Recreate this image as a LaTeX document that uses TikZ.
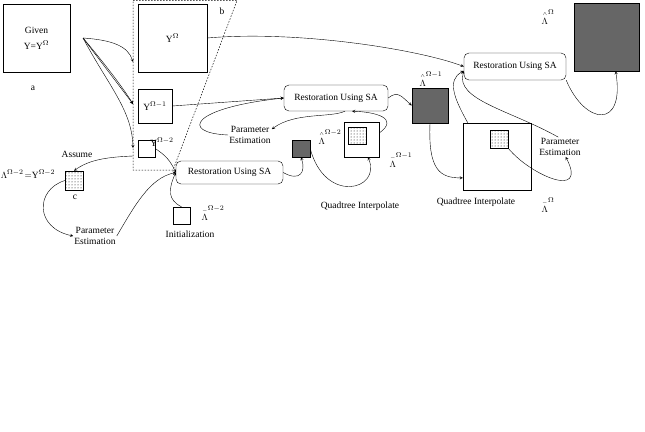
\documentclass[tikz,border=0pt]{standalone}
\usepackage{fontspec}
\setmainfont{Liberation Serif}
\usepackage{tikz}
\usetikzlibrary{patterns}
\tikzstyle{frame} = [rectangle, draw=black, inner sep=0pt, align=center]
\tikzstyle{process} = [rectangle, rounded corners=5pt, draw=black, inner sep=0pt, text centered]
\tikzstyle{dark} = [rectangle, draw=black, fill=black!60, inner sep=0pt]
\tikzstyle{dotbox} = [rectangle, draw=black, pattern=dots, inner sep=0pt]
\tikzstyle{txt} = [inner sep=1pt, align=center]
\tikzstyle{region} = [line width=0.5pt, dash pattern=on 1.5pt off 1.5pt]
\tikzstyle{arrow} = [->,>=stealth]
\newcommand{\lamhat}{\stackrel{\scriptscriptstyle\wedge}{\Lambda}}
\newcommand{\lambar}{\stackrel{\scriptscriptstyle-}{\Lambda}}

\begin{document}
\begin{tikzpicture}[x=1pt, y=-1pt, every node/.style={font=\fontsize{9.5}{11}\selectfont}]
	\useasboundingbox (0,0) rectangle (645,431);

	\node (given) [frame, minimum width=67pt, minimum height=68pt] at (36.5,38) {Given\\[5pt]Y=Y$^{\Omega}$};
	\node (a) [txt] at (33,88) {a};
	\node (yO) [frame, minimum width=69pt, minimum height=68pt] at (172.5,38) {Y$^{\Omega}$};
	\node (b) [txt] at (222,11) {b};
	\node (y1) [frame, minimum width=34pt, minimum height=34pt] at (155,106) {Y$^{\Omega-1}$};
	\node (y2) [frame, minimum width=17pt, minimum height=17pt] at (146.5,148.5) {};
	\node (y2lab) [txt] at (162,142) {Y$^{\Omega-2}$};
	\draw [region] (133,0.5) -- (237,0.5) -- (173,170) -- (133,170) -- cycle;

	\node (assume) [txt] at (77,154) {Assume};
	\node (cbox) [dotbox, minimum width=18pt, minimum height=19pt] at (74,180.5) {};
	\node (c) [txt] at (75,197) {c};
	\node (lamEq) [txt] at (28,174) {$\Lambda^{\Omega-2}\!=$Y$^{\Omega-2}$};
	\node (pe1) [txt] at (95,236) {Parameter\\Estimation};

	\node (res1) [process, minimum width=107pt, minimum height=23pt] at (229.5,172.5) {Restoration Using SA};
	\node (init) [frame, minimum width=17pt, minimum height=17pt] at (181.5,215.5) {};
	\node (initLab) [txt] at (213,213) {$\lambar^{\Omega-2}$};
	\node (initText) [txt] at (190,234) {Initialization};

	\node (dk1) [dark, minimum width=18pt, minimum height=17pt] at (301,148.5) {};
	\node (hat2) [txt] at (330,137) {$\lamhat^{\Omega-2}$};
	\node (qi1) [frame, minimum width=35pt, minimum height=35pt] at (361.5,139.5) {};
	\node (qi1in) [dotbox, minimum width=18pt, minimum height=17pt] at (357,135.5) {};
	\node (qiText1) [txt] at (360,206) {Quadtree Interpolate};
	\node (bar1) [txt] at (401,160) {$\lambar^{\Omega-1}$};

	\node (res2) [process, minimum width=104pt, minimum height=26pt] at (336,98) {Restoration Using SA};
	\node (pe2) [txt] at (250,135) {Parameter\\Estimation};
	\node (dk2) [dark, minimum width=36pt, minimum height=35pt] at (430,105.5) {};
	\node (hat1) [txt] at (431,79) {$\lamhat^{\Omega-1}$};
	\node (qi2) [frame, minimum width=68pt, minimum height=67pt] at (497,156.5) {};
	\node (qi2in) [dotbox, minimum width=18pt, minimum height=18pt] at (499,139) {};
	\node (qiText2) [txt] at (476,202) {Quadtree Interpolate};
	\node (barO) [txt] at (548,205) {$\lambar^{\Omega}$};
	\node (pe3) [txt] at (560,147) {Parameter\\Estimation};

	\node (res3) [process, minimum width=102pt, minimum height=27pt] at (515,66.5) {Restoration Using SA};
	\node (final) [dark, minimum width=65pt, minimum height=68pt] at (606.5,37) {};
	\node (hatO) [txt] at (548,17) {$\lamhat^{\Omega}$};

	\coordinate (src) at (83,38);
	\coordinate (toY) at (133,62);
	\coordinate (toY1) at (133,104);
	\coordinate (toY2) at (133,148);
	\coordinate (asm) at (133,156);

	\draw [arrow] (src) .. controls (112,40) and (128,46) .. (toY);
	\draw [arrow] (src) -- (toY1);
	\draw [arrow] (src) .. controls (100,58) and (122,86) .. (toY1);
	\draw [arrow] (src) .. controls (108,85) and (132,110) .. (toY2);
	\draw [arrow] (asm) .. controls (110,157) and (90,159) .. (cbox.north);
	\draw [arrow] (cbox.west) .. controls (35,190) and (35,228) .. (pe1.west);
	\draw [arrow] (pe1.east) .. controls (135,205) and (150,178) .. (res1.west);
	\draw [arrow] (y2.east) .. controls (165,155) and (170,160) .. (res1.west);
	\draw [arrow] (init.north) .. controls (168,200) and (168,190) .. (res1.west);

	\draw [arrow] (y1.east) -- (res2.west);
	\draw [arrow] (pe2.west) .. controls (180,133) and (190,108) .. (res2.west);
	\draw [arrow] (res1.east) .. controls (300,182) and (306,172) .. (dk1.south);
	\draw [arrow] (dk1.east) .. controls (325,205) and (382,190) .. (qi1.-70);
	\draw [arrow] (qi1.20) .. controls (400,118) and (375,112) .. ([xshift=16pt]res2.south);
	\draw [arrow] ([xshift=9pt]res2.south) .. controls (330,118) and (295,112) .. (pe2.15);
	\draw [arrow] (res2.east) .. controls (398,90) and (402,97) .. (dk2.west);
	\draw [arrow] (dk2.south) .. controls (428,170) and (440,178) .. (qi2.212);

	\draw [arrow] (yO.east) .. controls (300,30) and (420,50) .. (res3.west);
	\draw [arrow] ([xshift=5pt]qi2.north west) .. controls (455,100) and (446,80) .. (res3.185);
	\draw [arrow] (pe3.100) .. controls (510,110) and (455,100) .. (res3.185);
	\draw [arrow] (qi2in.south east) .. controls (530,175) and (588,200) .. (pe3.-60);
	\draw [arrow] (res3.south east) .. controls (585,125) and (625,130) .. (final.-75);

\end{tikzpicture}
\end{document}
